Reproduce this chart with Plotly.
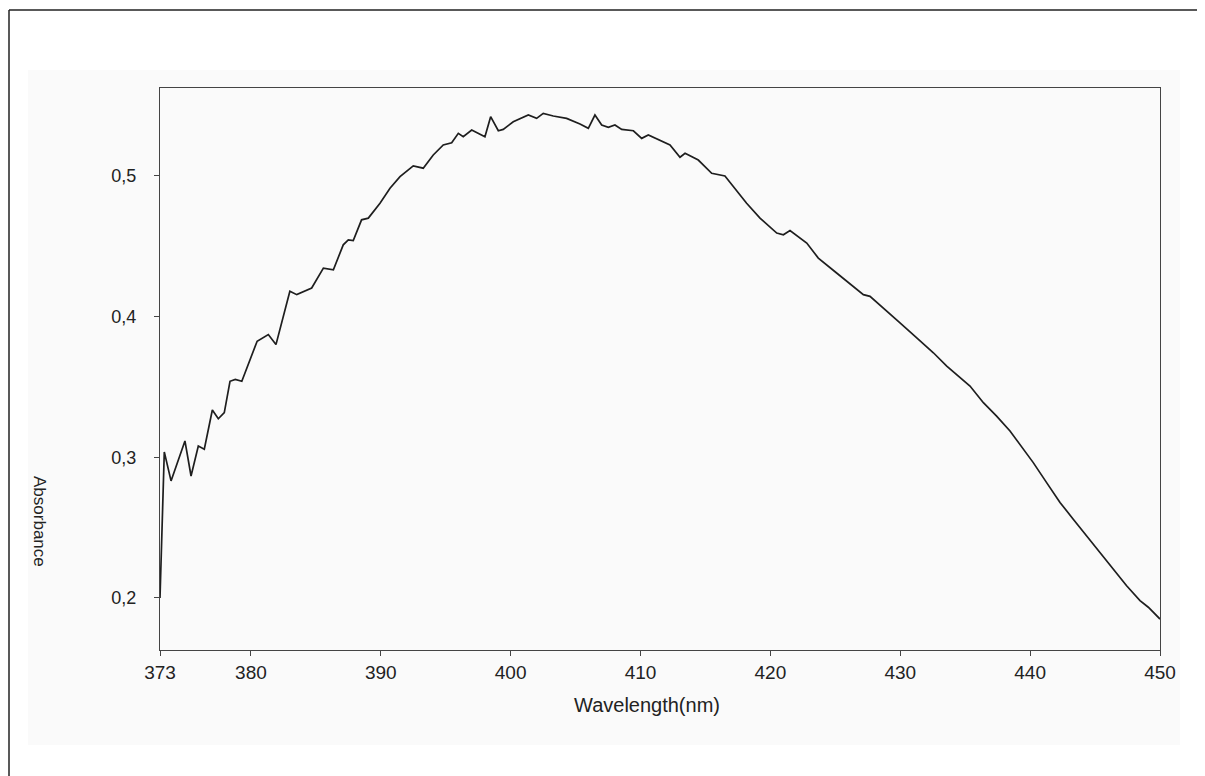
import plotly.graph_objects as go

# Spektrum
wavelength = [373.0, 373.33, 373.85, 374.92, 375.39, 375.95, 376.41, 377.03, 377.49, 377.95,
              378.39, 378.8, 379.3, 380.48, 381.34, 381.93, 383.0, 383.53, 384.68, 385.58,
              386.35, 387.11, 387.5, 387.88, 388.52, 389.04, 389.94, 390.71, 391.48, 392.5,
              393.27, 394.04, 394.81, 395.46, 395.97, 396.35, 397.0, 398.02, 398.46, 399.05,
              399.43, 400.2, 401.36, 402.0, 402.51, 403.28, 404.31, 405.34, 405.98, 406.49,
              407.01, 407.52, 408.03, 408.55, 409.45, 410.09, 410.6, 411.37, 412.27, 413.04,
              413.43, 414.45, 415.48, 416.5, 417.27, 418.17, 419.2, 420.49, 421.0, 421.51,
              422.8, 423.69, 425.1, 426.39, 427.16, 427.67, 428.7, 429.98, 431.27, 432.55,
              433.58, 434.6, 435.37, 436.4, 437.42, 438.45, 439.47, 440.24, 441.27, 442.3,
              443.32, 444.35, 445.38, 446.4, 447.43, 448.46, 449.1, 450.0]
absorbance = [0.2, 0.3038, 0.2832, 0.3116, 0.2867, 0.308, 0.3057, 0.3336, 0.3274, 0.3317,
              0.354, 0.3553, 0.354, 0.3825, 0.3872, 0.3801, 0.418, 0.4156, 0.4203, 0.4345,
              0.4333, 0.451, 0.4546, 0.4541, 0.4688, 0.47, 0.4806, 0.4913, 0.4995, 0.5071,
              0.5055, 0.5149, 0.522, 0.5236, 0.5303, 0.5279, 0.5326, 0.5279, 0.5421, 0.5321,
              0.5331, 0.5385, 0.5433, 0.5409, 0.5445, 0.5426, 0.5409, 0.5369, 0.5338, 0.5433,
              0.5362, 0.5345, 0.5362, 0.5331, 0.5321, 0.5267, 0.5291, 0.526, 0.522, 0.5133,
              0.5161, 0.5113, 0.5019, 0.5, 0.4913, 0.4806, 0.47, 0.4594, 0.4582, 0.4612,
              0.4523, 0.4416, 0.431, 0.4215, 0.4156, 0.4144, 0.4062, 0.3955, 0.3849, 0.3743,
              0.3648, 0.3565, 0.3506, 0.3388, 0.3293, 0.3187, 0.3057, 0.2962, 0.282, 0.2679,
              0.256, 0.2442, 0.2324, 0.2206, 0.2087, 0.1981, 0.1934, 0.185]

x_ticks = [373, 380, 390, 400, 410, 420, 430, 440, 450]
x_ticktext = ["373", "380", "390", "400", "410", "420", "430", "440", "450"]
y_ticks = [0.2, 0.3, 0.4, 0.5]
y_ticktext = ["0,2", "0,3", "0,4", "0,5"]

font_name = "Liberation Sans, Arial, sans-serif"

fig = go.Figure()
fig.add_trace(go.Scatter(
    x=wavelength, y=absorbance, mode="lines",
    line=dict(color="#1e1e1e", width=1.7),
    showlegend=False
))

# Seite hat 8px Rand -> Figur etwas kleiner, Ränder angepasst
fig.update_layout(
    width=1197, height=768,
    margin=dict(l=152, r=45, t=80, b=126),
    paper_bgcolor="white",
    plot_bgcolor="#fcfcfc",
    font=dict(family=font_name, size=17, color="#222"),
    shapes=[
        # leicht grauer Scan-Hintergrund
        dict(type="rect", xref="paper", yref="paper", x0=-0.132, x1=1.02, y0=-0.169, y1=1.032,
             fillcolor="#fafafa", line=dict(width=0), layer="below"),
        # Rahmen oben und links
        dict(type="line", xref="paper", yref="paper", x0=-0.151, x1=1.05, y0=1.1388, y1=1.1388,
             line=dict(color="#222", width=1.5)),
        dict(type="line", xref="paper", yref="paper", x0=-0.151, x1=-0.151, y0=-0.23, y1=1.1388,
             line=dict(color="#222", width=1.5)),
    ],
    annotations=[
        dict(text="Absorbance", xref="paper", yref="paper", x=-0.12, y=0.2295,
             xanchor="center", yanchor="middle",
             textangle=90, showarrow=False, font=dict(size=17, color="#222")),
        dict(text="Wavelength(nm)", xref="paper", yref="paper", x=0.487, y=-0.098,
             xanchor="center", yanchor="middle",
             showarrow=False, font=dict(size=20, color="#222")),
    ],
)

fig.update_xaxes(
    range=[373, 450], tickvals=x_ticks, ticktext=x_ticktext,
    showgrid=False, zeroline=False,
    showline=True, linecolor="#444", linewidth=1.2, mirror=True,
    ticks="outside", ticklen=5, tickcolor="#444",
    tickfont=dict(size=19)
)
fig.update_yaxes(
    range=[0.163, 0.5625], tickvals=y_ticks, ticktext=y_ticktext,
    showgrid=False, zeroline=False,
    showline=True, linecolor="#444", linewidth=1.2, mirror=True,
    ticks="outside", ticklen=5, tickcolor="#444",
    ticklabelstandoff=14, tickfont=dict(size=18)
)

fig.write_html("out.html")
